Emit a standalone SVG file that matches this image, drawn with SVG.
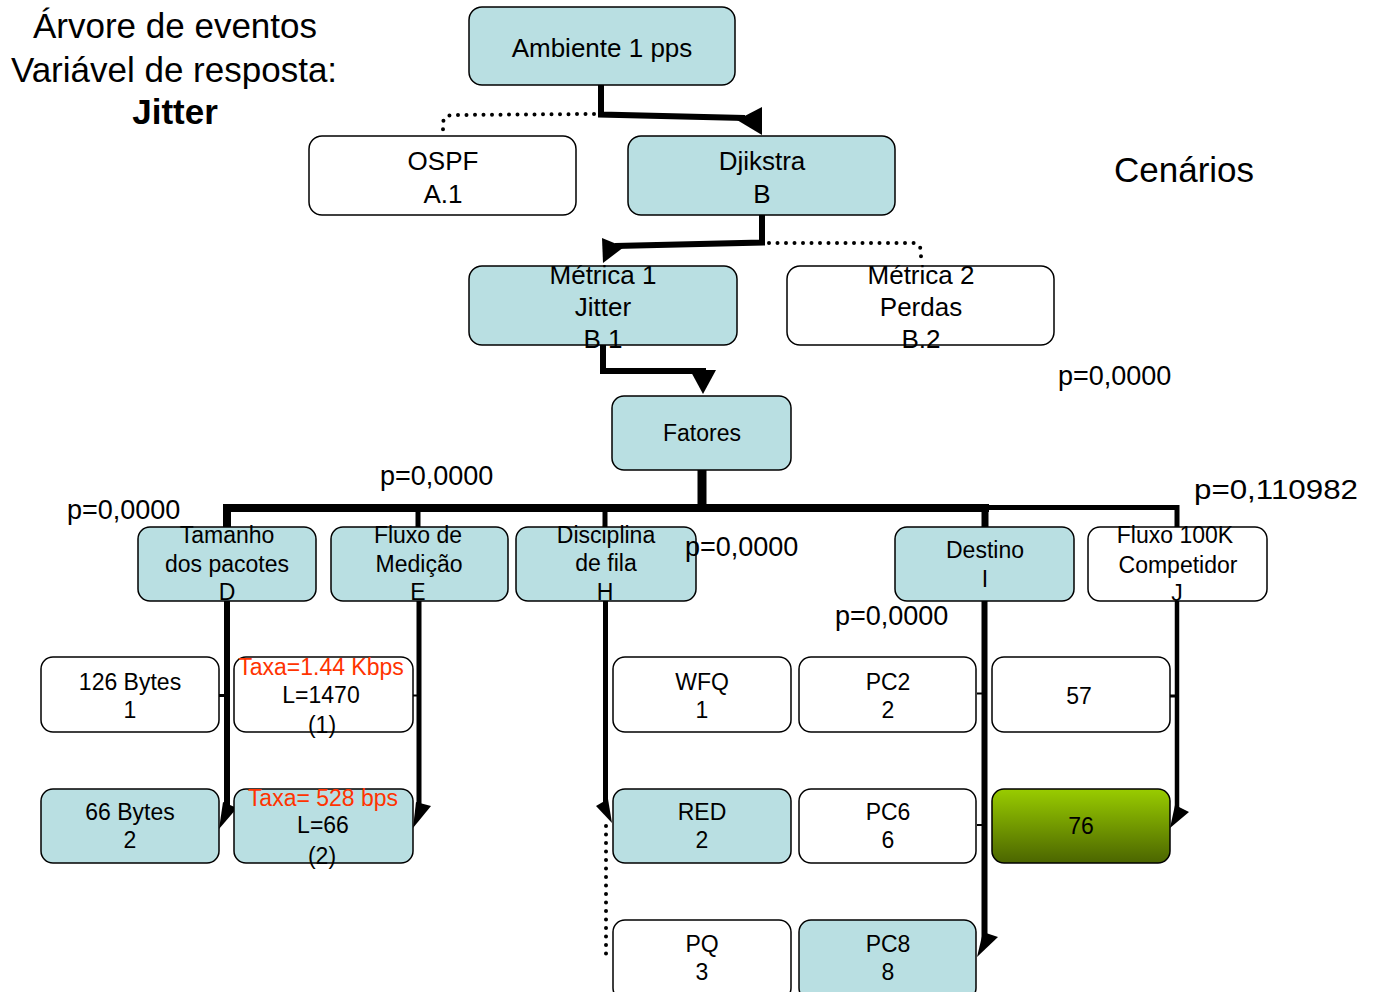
<svg xmlns="http://www.w3.org/2000/svg" width="1377" height="992" viewBox="0 0 1377 992">
  <style>
    text { font-family: "Liberation Sans", Arial, sans-serif; fill: #000; }
    .box { stroke: #000; stroke-width: 1.5; }
    .teal { fill: #b9dfe2; }
    .white { fill: #ffffff; }
    .t26 { font-size: 26px; text-anchor: middle; }
    .t23 { font-size: 23px; text-anchor: middle; }
    .title { font-size: 35px; text-anchor: middle; }
    .pval { font-size: 27px; }
    .red { fill: #ff3300; }
    .wire { fill: none; stroke: #000; stroke-linejoin: miter; }
    .dots { fill: none; stroke: #000; stroke-width: 4; stroke-linecap: round; stroke-dasharray: 0 8.5; }
    .head { fill: #000; }
  </style>
  <defs>
    <linearGradient id="greenFill" x1="0" y1="0" x2="0" y2="1">
      <stop offset="0" stop-color="#99cc00"/>
      <stop offset="1" stop-color="#4b6500"/>
    </linearGradient>
  </defs>

  <rect width="1377" height="992" fill="#ffffff"/>

  <!-- headings -->
  <g id="heading">
    <text class="title" x="175" y="38">Árvore de eventos</text>
    <text class="title" x="174" y="82">Variável de resposta:</text>
    <text class="title" x="175" y="124" font-weight="bold" font-size="34">Jitter</text>
  </g>
  <text class="title" x="1184" y="182">Cenários</text>

  <!-- connectors -->
  <g id="connectors">
    <!-- Ambiente -> Djikstra / OSPF -->
    <path class="wire" stroke-width="6" d="M601,85 V114.5 L745,118"/>
    <polygon class="head" points="737,120 762,107 762,135"/>
    <path class="dots" d="M594,114 L452,115 Q443,116 443,124 L443,135"/>

    <!-- Djikstra -> Métrica 1 / Métrica 2 -->
    <path class="wire" stroke-width="6" d="M762,215 V242.5 L615,246"/>
    <polygon class="head" points="602,238 624,247 603,263"/>
    <path class="dots" d="M769,243 L913,243 Q921,244 921,252 L921,264"/>

    <!-- Métrica 1 -> Fatores -->
    <path class="wire" stroke-width="6" d="M603,345 V371 H703 V380"/>
    <polygon class="head" points="690,370 716,370 703,394"/>

    <!-- Fatores -> bar -->
    <path class="wire" stroke-width="9" d="M702,470 V508"/>
    <path class="wire" stroke-width="8" d="M223,508 H989"/>
    <path class="wire" stroke-width="5" d="M985,507.5 H1177 V527"/>
    <path class="wire" stroke-width="8" d="M227,508 V527"/>
    <path class="wire" stroke-width="5" d="M418,508 V527"/>
    <path class="wire" stroke-width="5" d="M605,508 V527"/>
    <path class="wire" stroke-width="7" d="M985,508 V527"/>

    <!-- Tamanho dos pacotes -->
    <path class="wire" stroke-width="6" d="M227,601 V812"/>
    <path class="wire" stroke-width="3" d="M219,695.5 H227"/>
    <polygon class="head" points="223,802 237,808 219,829"/>

    <!-- Fluxo de Medição -->
    <path class="wire" stroke-width="5" d="M419,601 V812"/>
    <path class="wire" stroke-width="2" d="M413,695.5 H419"/>
    <polygon class="head" points="416,802 431,806 413,828"/>

    <!-- Disciplina de fila -->
    <path class="wire" stroke-width="5" d="M605.5,601 V808"/>
    <polygon class="head" points="596,806 608,799 612,823"/>
    <path class="dots" d="M606,826 V954 L612,957"/>

    <!-- Destino -->
    <path class="wire" stroke-width="6" d="M984.5,601 V945"/>
    <path class="wire" stroke-width="2" d="M977,693.5 H984"/>
    <path class="wire" stroke-width="2" d="M977,825 H984"/>
    <polygon class="head" points="977,957 983,932 998,937"/>

    <!-- Fluxo 100K Competidor -->
    <path class="wire" stroke-width="4.5" d="M1177,601 V812"/>
    <path class="wire" stroke-width="3" d="M1170,696 H1177"/>
    <polygon class="head" points="1170,828 1175,805 1189,812"/>
  </g>

  <!-- level 0 -->
  <g id="ambiente">
    <rect class="box teal" x="469" y="7" width="266" height="78" rx="13"/>
    <text class="t26" x="602" y="57">Ambiente 1 pps</text>
  </g>

  <!-- level 1 -->
  <g id="ospf">
    <rect class="box white" x="309" y="136" width="267" height="79" rx="13"/>
    <text class="t26" x="443" y="170">OSPF</text>
    <text class="t26" x="443" y="203">A.1</text>
  </g>
  <g id="djikstra">
    <rect class="box teal" x="628" y="136" width="267" height="79" rx="13"/>
    <text class="t26" x="762" y="170">Djikstra</text>
    <text class="t26" x="762" y="203">B</text>
  </g>

  <!-- level 2 -->
  <g id="metrica1">
    <rect class="box teal" x="469" y="266" width="268" height="79" rx="13"/>
    <text class="t26" x="603" y="284">Métrica 1</text>
    <text class="t26" x="603" y="316">Jitter</text>
    <text class="t26" x="603" y="348">B.1</text>
  </g>
  <g id="metrica2">
    <rect class="box white" x="787" y="266" width="267" height="79" rx="13"/>
    <text class="t26" x="921" y="284">Métrica 2</text>
    <text class="t26" x="921" y="316">Perdas</text>
    <text class="t26" x="921" y="348">B.2</text>
  </g>

  <!-- level 3 -->
  <g id="fatores">
    <rect class="box teal" x="612" y="396" width="179" height="74" rx="12"/>
    <text class="t23" x="702" y="441">Fatores</text>
  </g>

  <!-- factors -->
  <g id="fator-d">
    <rect class="box teal" x="138" y="527" width="178" height="74" rx="12"/>
    <text class="t23" x="227" y="543">Tamanho</text>
    <text class="t23" x="227" y="572">dos pacotes</text>
    <text class="t23" x="227" y="600">D</text>
  </g>
  <g id="fator-e">
    <rect class="box teal" x="331" y="527" width="177" height="74" rx="12"/>
    <text class="t23" x="418" y="543">Fluxo de</text>
    <text class="t23" x="419" y="572">Medição</text>
    <text class="t23" x="418" y="600">E</text>
  </g>
  <g id="fator-h">
    <rect class="box teal" x="516" y="527" width="180" height="74" rx="12"/>
    <text class="t23" x="606" y="543">Disciplina</text>
    <text class="t23" x="606" y="571">de fila</text>
    <text class="t23" x="605" y="600">H</text>
  </g>
  <g id="fator-i">
    <rect class="box teal" x="895" y="527" width="179" height="74" rx="12"/>
    <text class="t23" x="985" y="558">Destino</text>
    <text class="t23" x="985" y="587">I</text>
  </g>
  <g id="fator-j">
    <rect class="box white" x="1088" y="527" width="179" height="74" rx="12"/>
    <text class="t23" x="1175" y="543">Fluxo 100K</text>
    <text class="t23" x="1178" y="573">Competidor</text>
    <text class="t23" x="1177" y="601">J</text>
  </g>

  <!-- levels of D -->
  <g id="d1">
    <rect class="box white" x="41" y="657" width="178" height="75" rx="12"/>
    <text class="t23" x="130" y="690">126 Bytes</text>
    <text class="t23" x="130" y="718">1</text>
  </g>
  <g id="d2">
    <rect class="box teal" x="41" y="789" width="178" height="74" rx="12"/>
    <text class="t23" x="130" y="820">66 Bytes</text>
    <text class="t23" x="130" y="848">2</text>
  </g>

  <!-- levels of E -->
  <g id="e1">
    <rect class="box white" x="234" y="657" width="179" height="75" rx="12"/>
    <text class="t23 red" x="321" y="675">Taxa=1.44 Kbps</text>
    <text class="t23" x="321" y="703">L=1470</text>
    <text class="t23" x="322" y="733">(1)</text>
  </g>
  <g id="e2">
    <rect class="box teal" x="234" y="789" width="179" height="74" rx="12"/>
    <text class="t23 red" x="323" y="806">Taxa= 528 bps</text>
    <text class="t23" x="323" y="833">L=66</text>
    <text class="t23" x="322" y="864">(2)</text>
  </g>

  <!-- levels of H -->
  <g id="h1">
    <rect class="box white" x="613" y="657" width="178" height="75" rx="12"/>
    <text class="t23" x="702" y="690">WFQ</text>
    <text class="t23" x="702" y="718">1</text>
  </g>
  <g id="h2">
    <rect class="box teal" x="613" y="789" width="178" height="74" rx="12"/>
    <text class="t23" x="702" y="820">RED</text>
    <text class="t23" x="702" y="848">2</text>
  </g>
  <g id="h3">
    <rect class="box white" x="613" y="920" width="178" height="80" rx="12"/>
    <text class="t23" x="702" y="952">PQ</text>
    <text class="t23" x="702" y="980">3</text>
  </g>

  <!-- levels of I -->
  <g id="i2">
    <rect class="box white" x="799" y="657" width="177" height="75" rx="12"/>
    <text class="t23" x="888" y="690">PC2</text>
    <text class="t23" x="888" y="718">2</text>
  </g>
  <g id="i6">
    <rect class="box white" x="799" y="789" width="177" height="74" rx="12"/>
    <text class="t23" x="888" y="820">PC6</text>
    <text class="t23" x="888" y="848">6</text>
  </g>
  <g id="i8">
    <rect class="box teal" x="799" y="920" width="177" height="80" rx="12"/>
    <text class="t23" x="888" y="952">PC8</text>
    <text class="t23" x="888" y="980">8</text>
  </g>

  <!-- levels of J -->
  <g id="j57">
    <rect class="box white" x="992" y="657" width="178" height="75" rx="12"/>
    <text class="t23" x="1079" y="704">57</text>
  </g>
  <g id="j76">
    <rect class="box" x="992" y="789" width="178" height="74" rx="12" fill="url(#greenFill)"/>
    <text class="t23" x="1081" y="834">76</text>
  </g>

  <!-- p-values, drawn last so they sit above the boxes -->
  <g id="pvalues">
    <text class="pval" x="1058" y="385">p=0,0000</text>
    <text class="pval" x="380" y="485">p=0,0000</text>
    <text class="pval" x="67" y="519">p=0,0000</text>
    <text class="pval" x="685" y="556">p=0,0000</text>
    <text class="pval" x="1194" y="499" font-size="29.5" textLength="164" lengthAdjust="spacingAndGlyphs">p=0,110982</text>
    <text class="pval" x="835" y="625">p=0,0000</text>
  </g>
</svg>
